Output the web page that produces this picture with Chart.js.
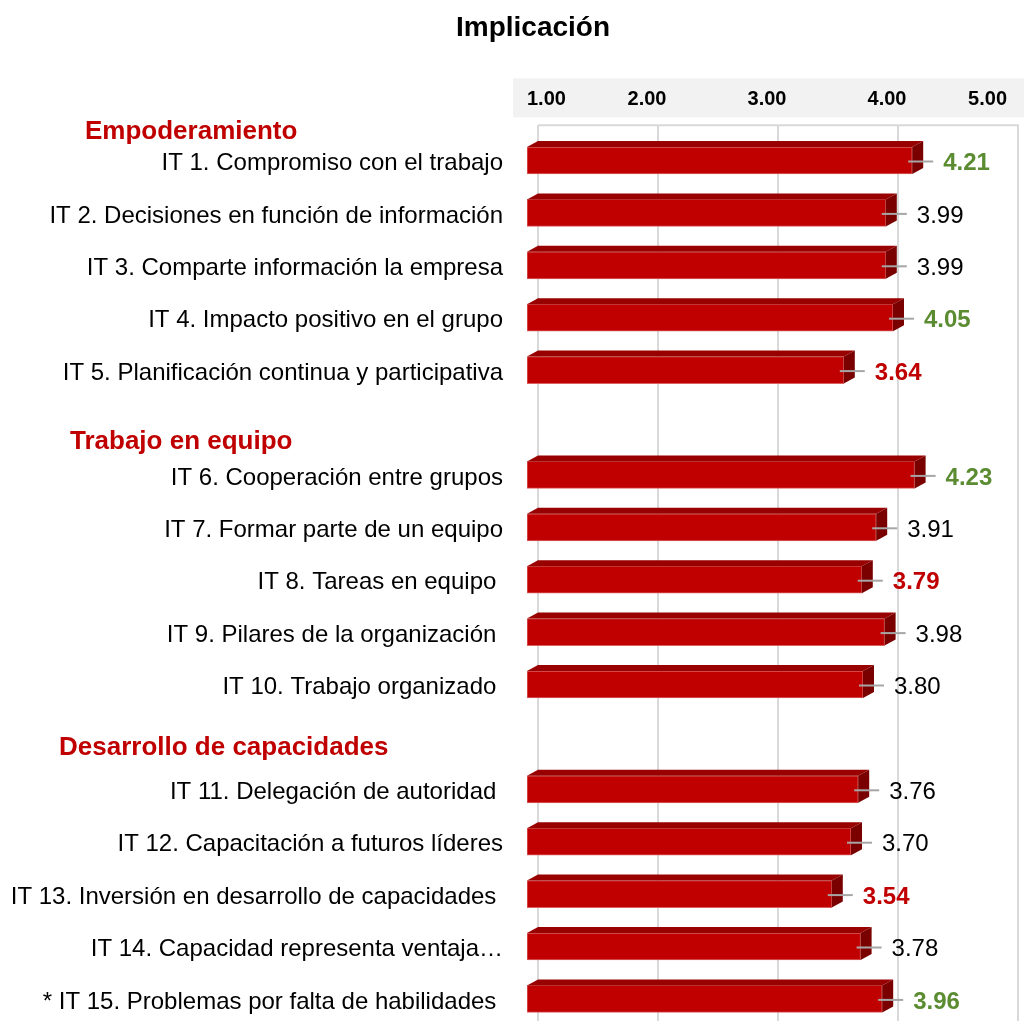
<!DOCTYPE html>
<html>
<head>
<meta charset="utf-8">
<script src="https://cdn.jsdelivr.net/npm/chart.js@4.4.0/dist/chart.umd.min.js"></script>
<style>
html,body{margin:0;padding:0;background:#fff;overflow:hidden;}
canvas{display:block;}
</style>
</head>
<body>
<canvas id="c" width="1024" height="1030"></canvas>
<script>
// data
var chartTitle = 'Implicación';
var groupNames = ['Empoderamiento', 'Trabajo en equipo', 'Desarrollo de capacidades'];

var labels1 = ['IT 1. Compromiso con el trabajo', 'IT 2. Decisiones en función de información',
  'IT 3. Comparte información la empresa', 'IT 4. Impacto positivo en el grupo',
  'IT 5. Planificación continua y participativa'];
var labels2 = ['IT 6. Cooperación entre grupos', 'IT 7. Formar parte de un equipo',
  'IT 8. Tareas en equipo ', 'IT 9. Pilares de la organización ', 'IT 10. Trabajo organizado '];
var labels3 = ['IT 11. Delegación de autoridad ', 'IT 12. Capacitación a futuros líderes',
  'IT 13. Inversión en desarrollo de capacidades ', 'IT 14. Capacidad representa ventaja…',
  '* IT 15. Problemas por falta de habilidades '];

var values1 = [4.21, 3.99, 3.99, 4.05, 3.64];
var values2 = [4.23, 3.91, 3.79, 3.98, 3.80];
var values3 = [3.76, 3.70, 3.54, 3.78, 3.96];

// g = green (high), r = red (low), '' = plain
var marks1 = ['g', '', '', 'g', 'r'];
var marks2 = ['g', '', 'r', '', ''];
var marks3 = ['', '', 'r', '', 'g'];

var xTicks = [1, 2, 3, 4, 5];

// build the category list with an empty slot between groups
var cats = labels1.concat([''], labels2, [''], labels3);
var vals = values1.concat([null], values2, [null], values3);
var marks = marks1.concat([''], marks2, [''], marks3);
var groupStart = [0, labels1.length + 1, labels1.length + labels2.length + 2];

var FONT = '"Liberation Sans", Arial, sans-serif';
var DX = 11, DY = 6;
var markColor = { g: '#5b8c32', r: '#c00000', '': '#000000' };

var bars3d = {
  id: 'bars3d',
  beforeDraw: function (chart) {
    var ctx = chart.ctx, a = chart.chartArea, xs = chart.scales.x;
    ctx.save();
    // grey band behind the top axis
    ctx.fillStyle = '#f2f2f2';
    ctx.fillRect(a.left - 14, a.top - 56, chart.width - a.left + 14, 39);
    // back wall grid
    ctx.strokeStyle = '#d9d9d9';
    ctx.lineWidth = 2;
    var wallTop = a.top - 9;
    ctx.beginPath();
    ctx.moveTo(xs.getPixelForValue(1) + DX, wallTop);
    ctx.lineTo(xs.getPixelForValue(5) + DX + 1, wallTop);
    xTicks.forEach(function (t) {
      var px = xs.getPixelForValue(t) + DX;
      ctx.moveTo(px, wallTop);
      ctx.lineTo(px, chart.height);
    });
    ctx.stroke();
    ctx.restore();
  },
  afterDatasetsDraw: function (chart) {
    var ctx = chart.ctx;
    var meta = chart.getDatasetMeta(0);
    ctx.save();
    meta.data.forEach(function (el, i) {
      if (vals[i] == null) return;
      var h = el.height, top = el.y - h / 2, bot = el.y + h / 2;
      var x0 = el.base, x1 = el.x;
      // top face
      ctx.fillStyle = '#990000';
      ctx.beginPath();
      ctx.moveTo(x0, top);
      ctx.lineTo(x0 + DX, top - DY);
      ctx.lineTo(x1 + DX, top - DY);
      ctx.lineTo(x1, top);
      ctx.closePath();
      ctx.fill();
      // side face
      ctx.fillStyle = '#7a0000';
      ctx.beginPath();
      ctx.moveTo(x1, top);
      ctx.lineTo(x1 + DX, top - DY);
      ctx.lineTo(x1 + DX, bot - DY);
      ctx.lineTo(x1, bot);
      ctx.closePath();
      ctx.fill();
      // leader line
      ctx.strokeStyle = '#a6a6a6';
      ctx.lineWidth = 2;
      ctx.beginPath();
      ctx.moveTo(x1 - 4, el.y + 1);
      ctx.lineTo(x1 + 21, el.y + 1);
      ctx.stroke();
      // value
      var m = marks[i];
      ctx.fillStyle = markColor[m];
      ctx.font = (m ? 'bold ' : '') + '24px ' + FONT;
      ctx.textAlign = 'left';
      ctx.textBaseline = 'middle';
      ctx.fillText(vals[i].toFixed(2), x1 + 31, el.y + 3);
    });
    ctx.restore();
  },
  afterDraw: function (chart) {
    var ctx = chart.ctx, ys = chart.scales.y;
    var hx = [85, 70, 59], hy = [-29, -33, -41];
    ctx.save();
    ctx.textBaseline = 'middle';
    ctx.fillStyle = '#000';
    ctx.font = 'bold 28px ' + FONT;
    ctx.textAlign = 'center';
    ctx.fillText(chartTitle, 533, 28);
    ctx.textAlign = 'left';
    ctx.fillStyle = '#c00000';
    ctx.font = 'bold 26px ' + FONT;
    groupNames.forEach(function (g, k) {
      ctx.fillText(g, hx[k], ys.getPixelForValue(groupStart[k]) + hy[k]);
    });
    ctx.restore();
  }
};

new Chart(document.getElementById('c'), {
  type: 'bar',
  data: {
    labels: cats,
    datasets: [{
      data: vals,
      base: 1,
      backgroundColor: '#c00000',
      borderColor: '#d86060',
      borderWidth: 1,
      borderSkipped: false,
      barThickness: 27
    }]
  },
  options: {
    indexAxis: 'y',
    responsive: false,
    animation: false,
    layout: { padding: { top: 43.4, right: 17, bottom: 4.9, left: 0 } },
    plugins: {
      legend: { display: false },
      tooltip: { enabled: false },
      title: { display: false }
    },
    scales: {
      x: {
        position: 'top',
        min: 1,
        max: 5,
        grid: { display: false, drawTicks: false },
        border: { display: false },
        afterBuildTicks: function (s) { s.ticks = xTicks.map(function (v) { return { value: v }; }); },
        afterFit: function (s) { s.height = 90.9; s.paddingLeft = 0; s.paddingRight = 0; },
        ticks: {
          align: 'inner',
          padding: 23,
          color: '#000',
          font: { family: FONT, size: 20, weight: 'bold', lineHeight: 1.2 },
          callback: function (v) { return Number(v).toFixed(2); }
        }
      },
      y: {
        grid: { display: false, drawTicks: false },
        border: { display: false },
        afterFit: function (s) { s.width = 527; s.paddingTop = 0; s.paddingBottom = 0; },
        ticks: {
          padding: 24,
          labelOffset: 3,
          autoSkip: false,
          color: '#000',
          font: { family: FONT, size: 24 }
        }
      }
    }
  },
  plugins: [bars3d]
});
</script>
</body>
</html>
